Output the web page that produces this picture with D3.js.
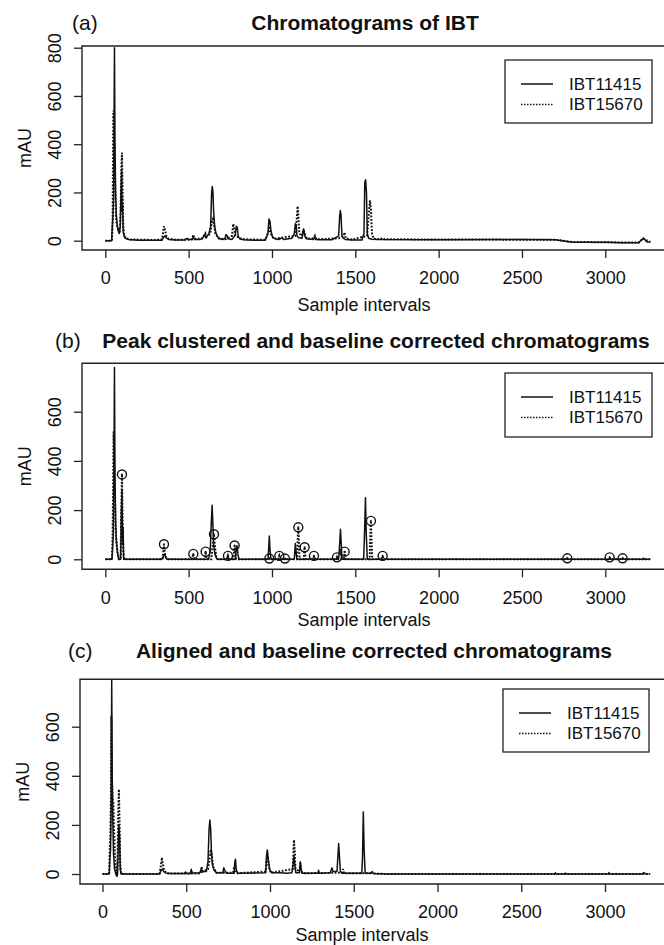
<html>
<head>
<style>
  body { margin: 0; background: #fff; }
  svg text { font-family: "Liberation Sans", Arial, sans-serif; fill: #111; }
</style>
<script src="https://d3js.org/d3.v7.min.js"></script>
</head>
<body>
<svg id="chart" width="664" height="945"></svg>
<script>
// ---- data (sample interval, mAU) ----
var xTicks = [0, 500, 1000, 1500, 2000, 2500, 3000];
var yTicksA = [0, 200, 400, 600, 800];
var yTicksBC = [0, 200, 400, 600];
var seriesNames = ["IBT11415", "IBT15670"];

// (a) raw chromatograms
var rawIBT11415 = [[0,0],[38,0],[42,60],[46,100],[50,180],[55,800],[58,420],[62,200],[66,110],[72,60],[78,40],[84,30],[90,60],[94,200],[98,290],[101,120],[104,150],[107,40],[112,20],[120,10],[140,5],[200,2],[340,2],[350,15],[358,20],[366,12],[380,5],[420,3],[480,3],[490,10],[498,4],[520,6],[528,14],[536,5],[570,5],[588,15],[596,25],[604,12],[612,20],[622,30],[632,60],[638,200],[642,225],[646,200],[650,120],[656,60],[664,30],[680,10],[700,5],[718,8],[724,25],[730,22],[736,8],[760,5],[770,15],[780,25],[786,60],[792,55],[797,20],[806,8],[830,4],[860,3],[900,2],[960,2],[976,30],[982,90],[988,80],[994,40],[1004,15],[1020,8],[1040,5],[1060,12],[1070,5],[1100,8],[1120,10],[1134,30],[1140,70],[1146,65],[1150,20],[1160,12],[1180,10],[1186,40],[1190,49],[1196,20],[1206,8],[1250,5],[1258,15],[1264,5],[1300,4],[1360,4],[1380,12],[1400,20],[1406,100],[1410,125],[1414,110],[1420,20],[1430,10],[1440,5],[1480,3],[1540,3],[1552,30],[1557,240],[1562,253],[1567,200],[1572,30],[1580,10],[1600,6],[1650,5],[2000,4],[2500,5],[2700,4],[2760,-2],[2800,-6],[3000,-6],[3100,-8],[3200,-8],[3225,8],[3235,6],[3250,-5],[3270,-6]];
var rawIBT15670 = [[0,0],[40,0],[44,80],[48,540],[52,470],[56,300],[60,200],[64,100],[68,70],[74,55],[80,40],[86,30],[92,120],[96,300],[100,365],[104,200],[108,60],[114,20],[124,10],[150,5],[300,3],[340,5],[346,30],[352,60],[358,45],[366,20],[380,8],[420,4],[520,5],[528,25],[534,8],[580,8],[592,20],[600,30],[606,15],[630,30],[640,80],[646,90],[652,70],[660,30],[680,10],[720,6],[760,20],[768,70],[774,50],[780,20],[796,15],[820,6],[960,4],[980,40],[986,60],[992,30],[1010,8],[1140,20],[1150,100],[1154,143],[1158,110],[1164,30],[1180,20],[1190,45],[1196,30],[1210,8],[1252,10],[1258,20],[1266,6],[1400,10],[1430,20],[1436,35],[1442,10],[1480,5],[1570,20],[1580,100],[1588,167],[1594,130],[1600,30],[1610,8],[1650,6],[1665,12],[1675,6],[2000,5],[2700,4],[2780,-3],[2800,-5],[3200,-8],[3228,10],[3240,4],[3270,-5]];

// (b) peak clustered, baseline corrected
var clusIBT11415 = [[0,0],[40,0],[44,50],[48,100],[52,400],[55,780],[58,350],[62,150],[66,80],[72,30],[80,0],[92,0],[96,180],[100,280],[104,60],[107,130],[110,0],[340,0],[350,15],[356,20],[362,10],[370,0],[620,0],[630,40],[636,150],[641,220],[645,150],[650,60],[658,20],[670,0],[728,0],[734,15],[740,0],[780,0],[786,45],[790,55],[796,20],[802,0],[976,0],[980,40],[984,95],[988,40],[994,0],[1134,0],[1140,64],[1146,20],[1150,0],[1400,0],[1406,60],[1411,122],[1416,60],[1420,0],[1550,0],[1556,120],[1561,250],[1566,100],[1572,0],[3225,0],[3230,5],[3235,0],[3270,0]];
var clusIBT15670 = [[0,0],[40,0],[44,100],[50,520],[54,400],[58,250],[62,120],[68,60],[76,20],[84,0],[92,0],[96,200],[100,345],[104,150],[108,30],[114,0],[344,0],[348,30],[352,61],[356,30],[362,10],[372,0],[520,0],[528,22],[534,0],[594,0],[602,31],[608,0],[636,0],[644,50],[652,102],[658,50],[666,10],[676,0],[730,0],[736,14],[742,0],[768,0],[772,30],[776,56],[780,30],[786,0],[980,0],[984,3],[988,0],[1038,0],[1044,14],[1050,0],[1074,0],[1078,3],[1082,0],[1150,0],[1154,80],[1158,130],[1162,60],[1166,0],[1190,0],[1196,49],[1202,0],[1246,0],[1252,14],[1258,0],[1386,0],[1390,8],[1394,0],[1430,0],[1436,31],[1442,0],[1586,0],[1590,100],[1594,156],[1598,60],[1602,0],[1658,0],[1664,14],[1670,0],[2766,0],[2772,4],[2778,0],[3020,0],[3026,8],[3032,0],[3098,0],[3104,4],[3110,0],[3270,0]];
var clusPeaks = [[100,345],[352,61],[528,22],[602,31],[652,102],[736,14],[776,56],[984,3],[1044,14],[1078,3],[1158,130],[1196,49],[1252,14],[1390,8],[1436,31],[1594,156],[1664,14],[2772,4],[3026,8],[3104,4]];

// (c) aligned, baseline corrected
var alignIBT11415 = [[0,0],[40,0],[44,60],[48,100],[52,300],[55,788],[58,400],[62,200],[66,80],[72,20],[80,0],[86,-10],[90,0],[94,120],[98,200],[102,150],[106,20],[110,0],[340,0],[350,15],[358,20],[366,10],[380,3],[400,2],[490,2],[496,8],[502,2],[524,2],[530,19],[536,4],[580,4],[590,20],[598,10],[620,10],[630,50],[636,180],[641,220],[646,180],[650,100],[656,40],[666,15],[680,5],[718,5],[724,25],[730,15],[740,3],[786,3],[790,50],[794,60],[798,20],[806,3],[974,5],[980,80],[984,98],[990,60],[998,20],[1010,5],[1060,5],[1100,3],[1130,5],[1138,40],[1143,73],[1148,40],[1154,5],[1176,5],[1181,50],[1186,20],[1192,3],[1286,3],[1290,15],[1294,3],[1360,5],[1370,25],[1376,10],[1400,10],[1406,80],[1410,124],[1414,80],[1420,10],[1430,3],[1548,3],[1552,60],[1557,253],[1562,100],[1568,3],[1605,3],[1610,10],[1616,2],[1700,0],[2700,0],[2704,5],[2708,0],[2760,0],[2764,4],[2768,0],[3020,0],[3024,6],[3028,0],[3225,0],[3230,6],[3240,2],[3260,0]];
var alignIBT15670 = [[0,0],[40,0],[44,120],[47,162],[50,300],[53,645],[56,400],[60,305],[64,300],[68,200],[74,80],[80,20],[86,-5],[90,60],[94,250],[98,345],[102,200],[106,40],[112,0],[340,0],[350,40],[355,67],[360,40],[368,15],[380,5],[400,2],[586,2],[592,30],[598,10],[630,20],[640,60],[646,100],[652,80],[660,30],[680,5],[780,5],[786,30],[792,20],[800,3],[974,10],[980,60],[986,70],[992,30],[1004,5],[1136,20],[1140,90],[1143,139],[1148,90],[1152,20],[1176,10],[1181,45],[1186,15],[1194,3],[1400,5],[1430,5],[1436,20],[1442,3],[1600,3],[1605,10],[1610,2],[1700,0],[3270,0]];

var panels = [
  {id: "a", tag: "(a)", tagX: 72, title: "Chromatograms of IBT", titleX: 365, titleY: 30,
   boxTop: 46, boxBottom: 250, boxLeft: 82, x0: 105.3, x3000: 605.3,
   yTop: 800, yTopPx: 47.7, yZeroPx: 240.7, yTicks: yTicksA,
   solid: rawIBT11415, dotted: rawIBT15670, peaks: null,
   legend: {x: 505, y: 60, w: 147, h: 63}, xLabelY: 311},
  {id: "b", tag: "(b)", tagX: 55, title: "Peak clustered and baseline corrected chromatograms", titleX: 376, titleY: 348,
   boxTop: 363.3, boxBottom: 569.3, boxLeft: 82, x0: 105.3, x3000: 605.3,
   yTop: 600, yTopPx: 411.7, yZeroPx: 559.3, yTicks: yTicksBC,
   solid: clusIBT11415, dotted: clusIBT15670, peaks: clusPeaks,
   legend: {x: 505, y: 373, w: 147, h: 64}, xLabelY: 626},
  {id: "c", tag: "(c)", tagX: 68, title: "Aligned and baseline corrected chromatograms", titleX: 374, titleY: 658,
   boxTop: 679.3, boxBottom: 884, boxLeft: 80, x0: 102.5, x3000: 605,
   yTop: 600, yTopPx: 726.7, yZeroPx: 874, yTicks: yTicksBC,
   solid: alignIBT11415, dotted: alignIBT15670, peaks: null,
   legend: {x: 503, y: 689, w: 146, h: 63}, xLabelY: 941}
];

var svg = d3.select("#chart");
var boxRight = 672;

panels.forEach(function(p) {
  var x = d3.scaleLinear().domain([0, 3000]).range([p.x0, p.x3000]);
  var y = d3.scaleLinear().domain([0, p.yTop]).range([p.yZeroPx, p.yTopPx]);
  var g = svg.append("g");

  g.append("clipPath").attr("id", "clip-" + p.id)
    .append("rect")
      .attr("x", p.boxLeft).attr("y", p.boxTop)
      .attr("width", boxRight - p.boxLeft).attr("height", p.boxBottom - p.boxTop);

  var line = d3.line().x(function(d) { return x(d[0]); }).y(function(d) { return y(d[1]); });

  var plot = g.append("g").attr("clip-path", "url(#clip-" + p.id + ")");
  plot.append("path").datum(p.dotted)
    .attr("d", line).attr("fill", "none").attr("stroke", "#111")
    .attr("stroke-width", 2).attr("stroke-dasharray", "1.8,1.6");
  plot.append("path").datum(p.solid)
    .attr("d", line).attr("fill", "none").attr("stroke", "#111")
    .attr("stroke-width", 1.5).attr("stroke-linejoin", "round");

  if (p.peaks) {
    var pk = plot.selectAll(".pk").data(p.peaks).enter().append("g")
      .attr("transform", function(d) { return "translate(" + x(d[0]) + "," + y(d[1]) + ")"; });
    pk.append("circle").attr("r", 4.5).attr("fill", "none").attr("stroke", "#111").attr("stroke-width", 1.4);
    pk.append("circle").attr("r", 1).attr("fill", "#111");
  }

  // box (open to the right, cropped)
  g.append("path")
    .attr("d", "M" + boxRight + "," + p.boxTop + "H" + p.boxLeft + "V" + p.boxBottom + "H" + boxRight)
    .attr("fill", "none").attr("stroke", "#222").attr("stroke-width", 1.4);

  // x axis
  var xa = g.append("g").attr("transform", "translate(0," + p.boxBottom + ")")
    .call(d3.axisBottom(x).tickValues(xTicks).tickSize(8).tickPadding(13.5).tickFormat(d3.format("d")));
  xa.select(".domain").remove();
  xa.selectAll("line").attr("stroke", "#222").attr("stroke-width", 1.3);
  xa.selectAll("text").style("font-size", "18px").attr("fill", "#111");

  // y axis, labels parallel to the axis
  var ya = g.append("g").attr("transform", "translate(" + p.boxLeft + ",0)")
    .call(d3.axisLeft(y).tickValues(p.yTicks).tickSize(8).tickFormat(d3.format("d")));
  ya.select(".domain").remove();
  ya.selectAll("line").attr("stroke", "#222").attr("stroke-width", 1.3);
  ya.selectAll("text")
    .attr("x", null).attr("dy", "0.35em")
    .attr("text-anchor", "middle")
    .attr("transform", "translate(-27,0) rotate(-90)")
    .style("font-size", "18px").attr("fill", "#111");

  g.append("text")
    .attr("transform", "translate(" + (p.boxLeft - 57) + "," + ((p.boxTop + p.boxBottom) / 2) + ") rotate(-90)")
    .attr("dy", "0.35em").attr("text-anchor", "middle")
    .style("font-size", "18px").text("mAU");

  g.append("text")
    .attr("x", (p.boxLeft + 282)).attr("y", p.xLabelY)
    .attr("text-anchor", "middle").style("font-size", "18px")
    .text("Sample intervals");

  g.append("text")
    .attr("x", p.titleX).attr("y", p.titleY)
    .attr("text-anchor", "middle").style("font-size", "21px").style("font-weight", "bold")
    .text(p.title);

  g.append("text")
    .attr("x", p.tagX).attr("y", p.titleY)
    .style("font-size", "21px")
    .text(p.tag);

  // legend
  var L = p.legend;
  var lg = g.append("g");
  lg.append("rect").attr("x", L.x).attr("y", L.y).attr("width", L.w).attr("height", L.h)
    .attr("fill", "#fff").attr("stroke", "#222").attr("stroke-width", 1.3);
  seriesNames.forEach(function(name, i) {
    var ry = L.y + 24 + i * 20.5;
    lg.append("line").attr("x1", L.x + 16).attr("x2", L.x + 48).attr("y1", ry).attr("y2", ry)
      .attr("stroke", "#111").attr("stroke-width", i === 0 ? 1.5 : 1.3)
      .attr("stroke-dasharray", i === 0 ? null : "1.5,1.5");
    lg.append("text").attr("x", L.x + 64).attr("y", ry).attr("dy", "0.35em")
      .style("font-size", "17px").text(name);
  });
});
</script>
</body>
</html>
